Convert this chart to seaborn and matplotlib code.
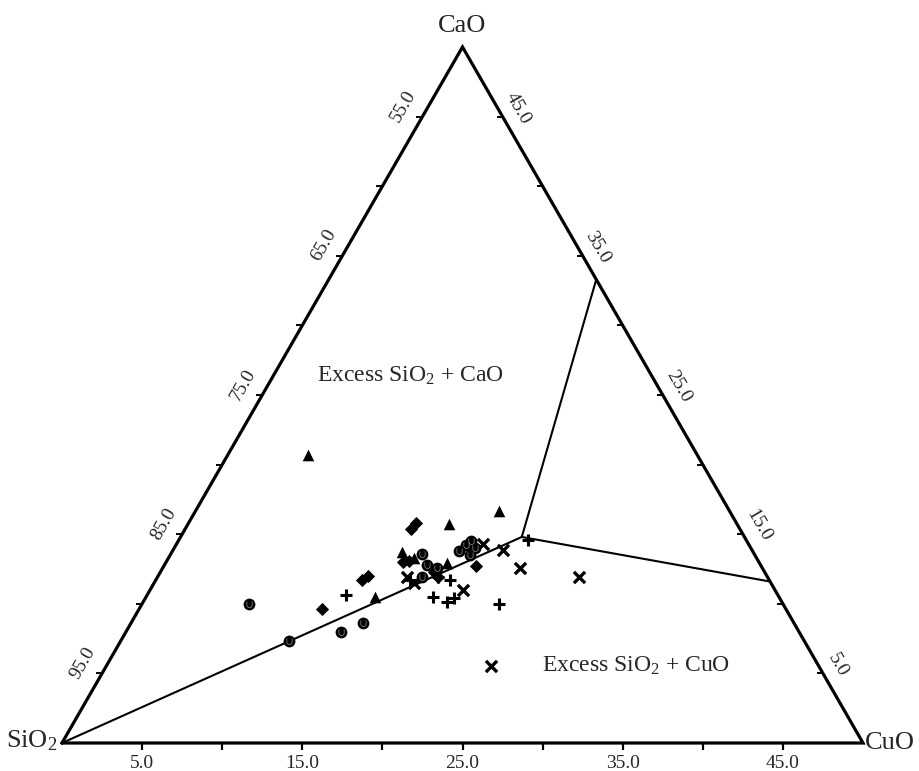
import numpy as np
import pandas as pd
import matplotlib
matplotlib.use("Agg")
import matplotlib.pyplot as plt
import seaborn as sns

# Compositions in wt% ; SiO2 = 100 - CuO - CaO (SiO2-rich corner, SiO2 >= 50)
tri_cuo = [5.0, 18.9, 16.3, 17.6, 14.4, 15.3, 14.3]
tri_cao = [20.7, 16.7, 15.7, 12.9, 13.7, 13.3, 10.5]

dia_cuo = [14.1, 14.2, 14.8, 15.1, 12.9, 13.1, 11.4, 17.1, 19.5, 17.5]
dia_cao = [15.4, 15.8, 13.0, 13.1, 11.7, 12.0, 9.6, 12.3, 12.7, 11.9]

cir_cuo = [6.7, 10.5, 13.4, 14.5, 15.7, 16.4, 16.5, 17.9, 18.1, 18.3, 18.7, 18.8, 17.1]
cir_cao = [10.0, 7.3, 8.0, 8.6, 13.6, 12.8, 11.9, 13.8, 14.2, 14.5, 13.5, 14.0, 12.6]

plus_cuo = [12.4, 18.4, 17.9, 19.0, 19.3, 22.3, 21.8, 15.9, 17.5]
plus_cao = [10.6, 11.7, 10.5, 10.1, 10.4, 10.0, 14.6, 11.7, 11.9]

x_cuo = [24.0, 26.3, 22.3, 20.6, 19.1, 19.5, 16.2, 15.6]
x_cao = [5.5, 11.9, 12.6, 13.9, 14.3, 11.0, 11.5, 11.9]

# Phase-field boundaries (CuO, CaO)
junction = (21.3, 14.8)
boundary_ends = [(0.0, 0.0), (16.7, 33.3), (38.4, 11.6)]

# Axis tick values
bottom_ticks = [5, 10, 15, 20, 25, 30, 35, 40, 45]       # CuO
left_ticks = [95, 90, 85, 80, 75, 70, 65, 60, 55]        # SiO2
right_ticks = [45, 40, 35, 30, 25, 20, 15, 10, 5]        # CaO
bottom_labels = [5, 15, 25, 35, 45]
left_labels = [95, 85, 75, 65, 55]
right_labels = [45, 35, 25, 15, 5]


def to_xy(cuo, cao):
    cuo = np.asarray(cuo, dtype=float)
    cao = np.asarray(cao, dtype=float)
    return cuo + cao / 2.0, cao


sns.set_style("white")
plt.rcParams["font.family"] = ["Liberation Serif", "DejaVu Serif"]
plt.rcParams["mathtext.fontset"] = "custom"
plt.rcParams["mathtext.rm"] = "Liberation Serif"
plt.rcParams["mathtext.it"] = "Liberation Serif:italic"

W, H = 920, 771
fig = plt.figure(figsize=(W / 100, H / 100), dpi=100)
x0, x1, ytop, ybot = 62, 863, 47, 743
ax = fig.add_axes([x0 / W, (H - ybot) / H, (x1 - x0) / W, (ybot - ytop) / H])
ax.set_xlim(0, 50)
ax.set_ylim(0, 50)
ax.axis("off")

# Triangle frame
fx, fy = to_xy([0, 50, 0, 0], [0, 0, 50, 0])
ax.plot(fx, fy, color="black", lw=2.3, solid_joinstyle="miter", clip_on=False, zorder=3)

# Boundaries
for end in boundary_ends:
    bx, by = to_xy([end[0], junction[0]], [end[1], junction[1]])
    ax.plot(bx, by, color="black", lw=1.5, clip_on=False, zorder=2)

# Ticks
tx, ty = to_xy(bottom_ticks, [0] * len(bottom_ticks))
ax.plot(tx, ty, ls="none", marker=3, ms=5, mew=1.6, color="black", clip_on=False)
lcao = [100 - s for s in left_ticks]
tx, ty = to_xy([0] * len(lcao), lcao)
ax.plot(tx, ty, ls="none", marker=0, ms=4, mew=1.4, color="black", clip_on=False)
rcuo = [50 - c for c in right_ticks]
tx, ty = to_xy(rcuo, right_ticks)
ax.plot(tx, ty, ls="none", marker=0, ms=4, mew=1.4, color="black", clip_on=False)

# Tick labels
tfs = 14
for v in bottom_labels:
    px, py = to_xy(v, 0)
    ax.annotate(f"{v:.1f}", (px, py), xytext=(0, -14.5), textcoords="offset points",
                ha="center", va="center", fontsize=tfs, annotation_clip=False)
for v in left_labels:
    px, py = to_xy(0, 100 - v)
    ax.annotate(f"{v:.1f}", (px, py), xytext=(-13.5, 7.5), textcoords="offset points",
                ha="center", va="center", rotation=60, rotation_mode="anchor",
                fontsize=tfs, annotation_clip=False)
for v in right_labels:
    px, py = to_xy(50 - v, v)
    ax.annotate(f"{v:.1f}", (px, py), xytext=(11, 6), textcoords="offset points",
                ha="center", va="center", rotation=-60, rotation_mode="anchor",
                fontsize=tfs, annotation_clip=False)

# Vertex labels
vfs = 19
ax.annotate("CaO", to_xy(0, 50), xytext=(0, 11), textcoords="offset points",
            ha="center", va="baseline", fontsize=vfs, annotation_clip=False)
ax.annotate("SiO$_2$", to_xy(0, 0), xytext=(-3, -3), textcoords="offset points",
            ha="right", va="baseline", fontsize=vfs, annotation_clip=False)
ax.annotate("CuO", to_xy(50, 0), xytext=(1, -4), textcoords="offset points",
            ha="left", va="baseline", fontsize=vfs, annotation_clip=False)

# Phase-field labels
ax.text((317 - x0) / (x1 - x0) * 50, (ybot - 382) / (ybot - ytop) * 50,
        "Excess SiO$_2$ + CaO", fontsize=17, ha="left", va="baseline")
ax.text((542 - x0) / (x1 - x0) * 50, (ybot - 672) / (ybot - ytop) * 50,
        "Excess SiO$_2$ + CuO", fontsize=17, ha="left", va="baseline")

# Data points
def frame(cuo, cao):
    x, y = to_xy(cuo, cao)
    return pd.DataFrame({"x": x, "y": y})

kw = dict(x="x", y="y", color="black", ax=ax, legend=False, clip_on=False, zorder=4)
sns.scatterplot(data=frame(tri_cuo, tri_cao), marker="^", s=70, linewidth=0, **kw)
sns.scatterplot(data=frame(dia_cuo, dia_cao), marker="D", s=45, linewidth=0, **kw)
sns.scatterplot(data=frame(cir_cuo, cir_cao), marker="o", s=72, linewidth=0, **kw)
cdf = frame(cir_cuo, cir_cao)
ax.scatter(cdf["x"], cdf["y"], marker=r"$\cup$", s=20, color="white", linewidths=0, zorder=5)
sns.scatterplot(data=frame(plus_cuo, plus_cao), marker="+", s=75, linewidth=2.2, **kw)
sns.scatterplot(data=frame(x_cuo, x_cao), marker="x", s=65, linewidth=2.4, **kw)

fig.savefig("out.png", dpi=100, facecolor="white")
